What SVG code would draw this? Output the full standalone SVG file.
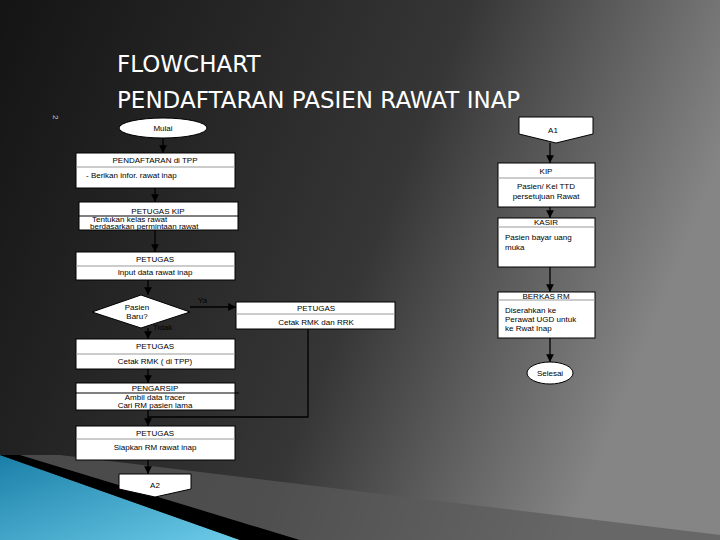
<svg xmlns="http://www.w3.org/2000/svg" width="720" height="540" viewBox="0 0 720 540">
<defs>
<linearGradient id="bg" x1="0" y1="0" x2="1" y2="0.3">
<stop offset="0" stop-color="#141414"/><stop offset="0.6" stop-color="#363636"/><stop offset="1" stop-color="#858585"/>
</linearGradient>
<linearGradient id="blue" x1="0" y1="0" x2="1" y2="1">
<stop offset="0" stop-color="#1a7fa8"/><stop offset="1" stop-color="#6ccbe8"/>
</linearGradient>
<marker id="ar" viewBox="0 0 10 10" refX="10" refY="5" markerWidth="6" markerHeight="6" orient="auto"><path d="M0,0L10,5L0,10z" fill="#000"/></marker>
<style>
.b{fill:#fff;stroke:#000;stroke-width:1}
.d{stroke:#999;stroke-width:1}
.t{font-family:"Liberation Sans",Arial,sans-serif;font-size:8px;fill:#000;text-anchor:middle}
.l{font-family:"Liberation Sans",Arial,sans-serif;font-size:8px;fill:#000}
.c{stroke:#000;stroke-width:1.3;fill:none}
</style>
</defs>
<rect width="720" height="540" fill="url(#bg)"/>
<path d="M0,455 L0,540 L240,540 Z" fill="url(#blue)"/>
<path d="M0,455 L240,540 L300,540 L20,455 Z" fill="#000"/>
<path d="M20,455 L300,540 L720,540 L720,535 L60,455 Z" fill="#5a5a5a" opacity="0.7"/>
<text x="117" y="72" font-family="DejaVu Sans,sans-serif" font-size="23" fill="#fff">FLOWCHART</text>
<text x="117" y="108" font-family="DejaVu Sans,sans-serif" font-size="23" fill="#fff">PENDAFTARAN PASIEN RAWAT INAP</text>
<text x="50" y="118" font-family="Liberation Sans,sans-serif" font-size="8" fill="#ccc" transform="rotate(90 53 118)">2</text>
<g id="connectors">
<path class="c" d="M163,138V153" marker-end="url(#ar)"/>
<path class="c" d="M155,188V202" marker-end="url(#ar)"/>
<path class="c" d="M155,230V252" marker-end="url(#ar)"/>
<path class="c" d="M148,280V295" marker-end="url(#ar)"/>
<path class="c" d="M190,307H236" marker-end="url(#ar)"/>
<path class="c" d="M148,328V339" marker-end="url(#ar)"/>
<path class="c" d="M148,369V383" marker-end="url(#ar)"/>
<path class="c" d="M148,410V426" marker-end="url(#ar)"/>
<path class="c" d="M308,329V417H148"/>
<path class="c" d="M148,460V474" marker-end="url(#ar)"/>
<path class="c" d="M550,143V163" marker-end="url(#ar)"/>
<path class="c" d="M550,207V218" marker-end="url(#ar)"/>
<path class="c" d="M550,267V292" marker-end="url(#ar)"/>
<path class="c" d="M550,338V362" marker-end="url(#ar)"/>
<text class="l" x="198" y="303">Ya</text>
<text class="l" x="153" y="330" fill="#222">Tidak</text>
</g>
<g id="mulai"><ellipse class="b" cx="163" cy="128" rx="44" ry="10"/><text class="t" x="163" y="131">Mulai</text></g>
<g id="pendaftaran"><rect class="b" x="76" y="153" width="159" height="35"/><line class="d" x1="76" y1="167" x2="235" y2="167"/><text class="t" x="155" y="163">PENDAFTARAN di TPP</text><text class="l" x="86" y="178">-  Berikan infor. rawat inap</text></g>
<g id="kip1"><rect class="b" x="79" y="202" width="159" height="28"/><line x1="79" y1="216" x2="238" y2="216" stroke="#000"/><text class="t" x="158" y="214" font-size="10">PETUGAS KIP</text><text class="l" x="92" y="221.5" font-size="6">Tentukan kelas rawat</text><text class="l" x="90" y="228.5" font-size="5">berdasarkan permintaan rawat</text></g>
<g id="petugas1"><rect class="b" x="76" y="252" width="159" height="28"/><line class="d" x1="76" y1="266" x2="235" y2="266"/><text class="t" x="155" y="262">PETUGAS</text><text class="t" x="155" y="275">Input data rawat inap</text></g>
<g id="pasienbaru"><path class="b" d="M141,295L190,312L141,328L92,312Z"/><text class="t" x="137" y="310">Pasien</text><text class="t" x="137" y="319">Baru?</text></g>
<g id="petugas2"><rect class="b" x="236" y="302" width="159" height="27"/><line class="d" x1="236" y1="314" x2="395" y2="314"/><text class="t" x="316" y="311">PETUGAS</text><text class="t" x="316" y="325">Cetak RMK dan RRK</text></g>
<g id="petugas3"><rect class="b" x="76" y="339" width="159" height="30"/><line class="d" x1="76" y1="354" x2="235" y2="354"/><text class="t" x="155" y="349">PETUGAS</text><text class="t" x="155" y="364">Cetak RMK ( di TPP)</text></g>
<g id="pengarsip"><rect class="b" x="76" y="383" width="159" height="27"/><line x1="76" y1="393" x2="239" y2="393" stroke="#000"/><text class="t" x="155" y="391">PENGARSIP</text><text class="t" x="155" y="400">Ambil data tracer</text><text class="t" x="155" y="408">Cari RM pasien lama</text></g>
<g id="petugas4"><rect class="b" x="76" y="426" width="159" height="34"/><line class="d" x1="76" y1="439" x2="235" y2="439"/><text class="t" x="155" y="436">PETUGAS</text><text class="t" x="155" y="450">Siapkan RM rawat inap</text></g>
<g id="a2"><path class="b" d="M119,474H191V489L155,497L119,489Z"/><text class="t" x="155" y="488" font-size="9">A2</text></g>
<g id="a1"><path class="b" d="M519,117H593V134L556,143L519,134Z"/><text class="t" x="553" y="133" font-size="9" font-family="Liberation Serif,serif">A1</text></g>
<g id="kip2"><rect class="b" x="498" y="163" width="97" height="44"/><line class="d" x1="498" y1="178" x2="595" y2="178"/><text class="t" x="546" y="174" font-size="10">KIP</text><text class="t" x="546" y="189" font-size="7">Pasien/ Kel TTD</text><text class="t" x="546" y="199" font-size="7">persetujuan Rawat</text></g>
<g id="kasir"><rect class="b" x="498" y="218" width="97" height="49"/><line class="d" x1="498" y1="227" x2="595" y2="227"/><text class="t" x="546" y="225" font-size="7">KASIR</text><text class="l" x="505" y="240" font-size="7">Pasien bayar uang</text><text class="l" x="505" y="250" font-size="7">muka</text></g>
<g id="berkas"><rect class="b" x="498" y="292" width="97" height="46"/><line class="d" x1="498" y1="300" x2="595" y2="300"/><text class="t" x="546" y="299" font-size="7">BERKAS RM</text><text class="l" x="505" y="313" font-size="7">Diserahkan ke</text><text class="l" x="505" y="322" font-size="7">Perawat UGD untuk</text><text class="l" x="505" y="331" font-size="7">ke Rwat Inap</text></g>
<g id="selesai"><ellipse class="b" cx="550" cy="373" rx="23" ry="11"/><text class="t" x="550" y="376" font-size="7">Selesai</text></g>
</svg>
